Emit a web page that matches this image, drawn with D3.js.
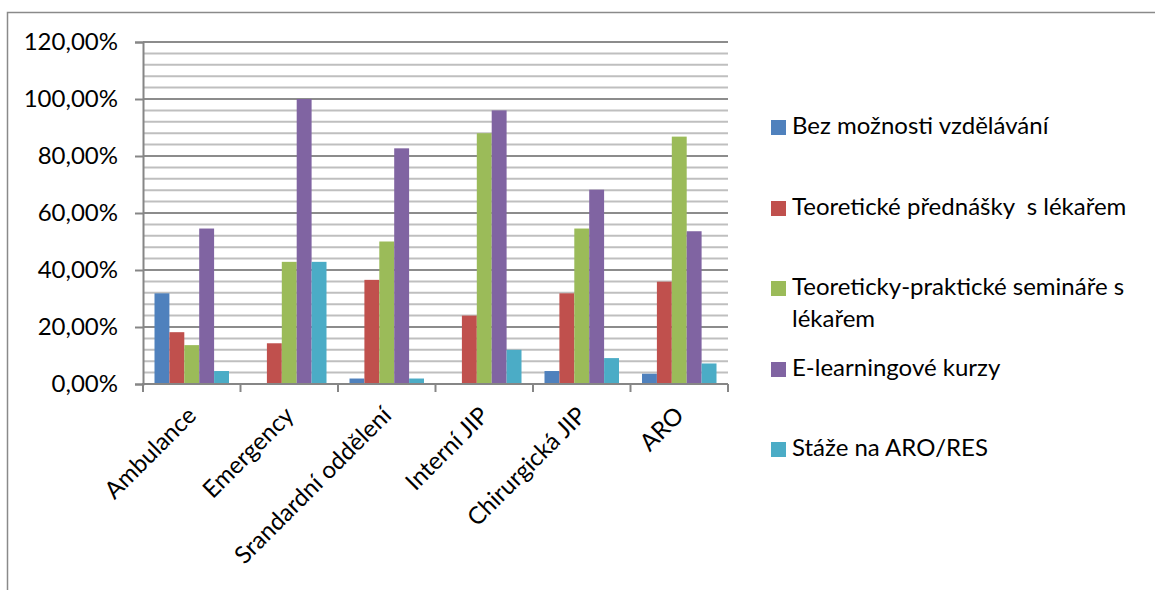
<!DOCTYPE html>
<html>
<head>
<meta charset="utf-8">
<script src="https://cdn.jsdelivr.net/npm/d3@7"></script>
<style>
  html, body { margin: 0; padding: 0; background: #fff; }
  svg { display: block; font-family: Lato, "Open Sans", sans-serif; }
</style>
</head>
<body>
<svg id="chart" width="1155" height="590"></svg>
<script>
// Oddělení (kategorie na ose x)
const categories = ["Ambulance", "Emergency", "Srandardní oddělení", "Interní JIP", "Chirurgická JIP", "ARO"];

// Série – podíl respondentů podle formy vzdělávání
const seriesNames = [
  "Bez možnosti vzdělávání",
  "Teoretické přednášky  s lékařem",
  "Teoreticky-praktické semináře s lékařem",
  "E-learningové kurzy",
  "Stáže na ARO/RES"
];
const bezMoznosti   = [0.3182, 0.0000, 0.0192, 0.0000, 0.0455, 0.0360];
const prednasky     = [0.1818, 0.1429, 0.3654, 0.2400, 0.3182, 0.3590];
const seminare      = [0.1364, 0.4286, 0.5000, 0.8800, 0.5455, 0.8680];
const eLearning     = [0.5455, 1.0000, 0.8269, 0.9600, 0.6818, 0.5360];
const staze         = [0.0455, 0.4286, 0.0192, 0.1200, 0.0909, 0.0720];
const seriesValues  = [bezMoznosti, prednasky, seminare, eLearning, staze];
const seriesColors  = ["#4F81BD", "#C0504D", "#9BBB59", "#8064A2", "#4BACC6"];

// Popisky osy y
const yTicks = [0, 0.2, 0.4, 0.6, 0.8, 1.0, 1.2];
const yMinorStep = 0.04;

const svg = d3.select("#chart");
const plot = { left: 143, right: 728, top: 42, bottom: 384 };
const fontSize = 24;

const czLocale = d3.formatLocale({ decimal: ",", thousands: " ", grouping: [3], currency: ["", " Kč"], percent: "%" });
const fmt = czLocale.format(".2%");

const y = d3.scaleLinear().domain([0, 1.2]).range([plot.bottom, plot.top]);
const x = d3.scaleBand().domain(categories).range([plot.left, plot.right]).padding(0);
const groupPad = 11.5;
const xs = d3.scaleBand().domain(d3.range(seriesNames.length)).range([groupPad, x.bandwidth() - groupPad]).padding(0);

// Vnější rámeček grafu
svg.append("path")
  .attr("d", `M7.5,590 V12.5 H1155`)
  .attr("fill", "none").attr("stroke", "#8a8a8a").attr("stroke-width", 1.5);

// Vedlejší mřížka (po 4 %)
const minorVals = d3.range(0, 1.2 + 1e-9, yMinorStep).filter(v => Math.abs(Math.round(v / 0.2) * 0.2 - v) > 1e-6);
svg.append("g").selectAll("line").data(minorVals).join("line")
  .attr("x1", plot.left).attr("x2", plot.right)
  .attr("y1", d => y(d)).attr("y2", d => y(d))
  .attr("stroke", "#bfbfbf").attr("stroke-width", 2);

// Hlavní mřížka (po 20 %)
svg.append("g").selectAll("line").data(yTicks.filter(v => v > 0)).join("line")
  .attr("x1", plot.left).attr("x2", plot.right)
  .attr("y1", d => y(d)).attr("y2", d => y(d))
  .attr("stroke", "#8c8c8c").attr("stroke-width", 2);

// Sloupce
const groups = svg.append("g").selectAll("g").data(categories).join("g")
  .attr("transform", d => `translate(${x(d)},0)`);
groups.selectAll("rect")
  .data((c, ci) => seriesValues.map((vals, si) => ({ si, v: vals[ci] })))
  .join("rect")
  .attr("x", d => xs(d.si))
  .attr("width", xs.bandwidth())
  .attr("y", d => y(d.v))
  .attr("height", d => y(0) - y(d.v))
  .attr("fill", d => seriesColors[d.si]);

// Osa y
const yAxis = svg.append("g")
  .attr("transform", `translate(${plot.left},0)`)
  .call(d3.axisLeft(y).tickValues(yTicks).tickSize(8).tickPadding(17).tickFormat(fmt));
yAxis.select(".domain").attr("stroke", "#868686").attr("stroke-width", 2);
yAxis.selectAll(".tick line").attr("stroke", "#868686").attr("stroke-width", 2);
yAxis.selectAll("text").attr("font-size", fontSize).attr("fill", "#000").attr("font-family", "Lato");

// Osa x – značky na hranicích kategorií
const boundaries = categories.map(c => x(c)).concat([x(categories[categories.length - 1]) + x.step()]);
svg.append("line")
  .attr("x1", plot.left - 1).attr("x2", plot.right)
  .attr("y1", y(0)).attr("y2", y(0))
  .attr("stroke", "#868686").attr("stroke-width", 2);
svg.append("g").selectAll("line").data(boundaries).join("line")
  .attr("x1", d => d).attr("x2", d => d)
  .attr("y1", y(0)).attr("y2", y(0) + 8)
  .attr("stroke", "#868686").attr("stroke-width", 2);

// Popisky kategorií natočené o 45°
svg.append("g").selectAll("text").data(categories).join("text")
  .attr("transform", d => `translate(${x(d) + x.bandwidth() / 2 + 6},${y(0) + 33}) rotate(-45)`)
  .attr("text-anchor", "end")
  .attr("font-size", fontSize)
  .attr("fill", "#000")
  .text(d => d);

// Legenda
const legendRows = [
  { lines: ["Bez možnosti vzdělávání"], base: 134 },
  { lines: ["Teoretické přednášky  s lékařem"], base: 215 },
  { lines: ["Teoreticky-praktické semináře s", "lékařem"], base: 295 },
  { lines: ["E-learningové kurzy"], base: 376 },
  { lines: ["Stáže na ARO/RES"], base: 456 }
];
const legend = svg.append("g").selectAll("g").data(legendRows).join("g");
legend.append("rect")
  .attr("x", 771).attr("y", d => d.base - 14)
  .attr("width", 15).attr("height", 15)
  .attr("fill", (d, i) => seriesColors[i]);
legend.append("text")
  .attr("x", 792).attr("y", d => d.base)
  .attr("font-size", fontSize).attr("fill", "#000")
  .style("white-space", "pre")
  .selectAll("tspan").data(d => d.lines).join("tspan")
  .attr("x", 792).attr("dy", (d, i) => i === 0 ? 0 : 32)
  .text(d => d);
</script>
</body>
</html>
